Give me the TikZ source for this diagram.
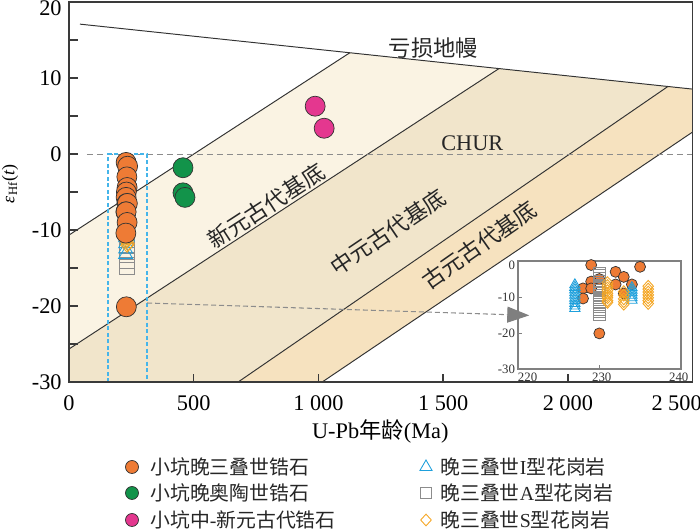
\documentclass[tikz,border=0pt]{standalone}
\usepackage{fontspec}
\setmainfont{Liberation Serif}
\newfontfamily\cjk{Noto Sans CJK SC}
\usepackage{tikz}
\usetikzlibrary{positioning}
\usetikzlibrary{shapes.geometric}
\usetikzlibrary{arrows.meta}

\definecolor{zirconorange}{HTML}{EE7B35}
\definecolor{zircongreen}{HTML}{12934A}
\definecolor{zirconpink}{HTML}{E4378F}
\definecolor{itype}{HTML}{1EA0DC}
\definecolor{atype}{HTML}{8C8C8C}
\definecolor{stype}{HTML}{F5A623}
\definecolor{neoband}{HTML}{FAF3E3}
\definecolor{mesoband}{HTML}{F1E5CB}
\definecolor{paleoband}{HTML}{F6E2BF}
\definecolor{framegray}{HTML}{3A3A3A}
\definecolor{insetgray}{HTML}{808080}
\definecolor{selblue}{HTML}{45B5EA}
\definecolor{arrowgray}{HTML}{7F7F7F}

\newcommand{\bigsize}{\fontsize{12.7pt}{15pt}\selectfont}
\newcommand{\ytitlesize}{\fontsize{10.2pt}{12pt}\selectfont}
\newcommand{\legsize}{\fontsize{11.3pt}{13pt}\selectfont}
\newcommand{\insetsize}{\fontsize{7.3pt}{8.5pt}\selectfont}

% zircon and granite data (age in Ma / epsilon Hf)
\newcommand{\latezircon}{229/-1.1, 235/-1.6, 232/-3.0, 233/-4.4, 230/-5.0, 229/-5.7, 232/-6.5, 234/-6.5, 228/-7.6, 229/-7.6, 233/-9.0, 228/-10.4, 230/-20.1}
\newcommand{\itypegranite}{227/-6.6, 227/-7.3, 227/-8.0, 227/-8.8, 227/-9.5, 227/-10.3, 227/-11.0, 227/-11.8, 227/-12.5, 227/-13.2, 234/-7.4, 234/-8.1, 234/-8.8, 234/-9.5, 234/-10.2, 234/-10.9}
\newcommand{\atypegranite}{230/-3.4, 230/-4.1, 230/-4.9, 230/-5.6, 230/-6.3, 230/-7.0, 230/-7.6, 230/-8.2, 230/-8.8, 230/-9.5, 230/-10.1, 230/-10.7, 230/-11.3, 230/-12.0, 230/-12.6, 230/-13.3, 230/-14.0, 230/-14.8}
\newcommand{\stypegranite}{231/-6.0, 231/-6.8, 231/-7.5, 231/-8.2, 231/-9.0, 231/-9.6, 231/-10.2, 231/-11.0, 231/-11.5, 233/-8.5, 233/-9.5, 233/-10.5, 233/-11.3, 233/-12.0, 236/-7.0, 236/-7.8, 236/-8.6, 236/-9.4, 236/-10.2, 236/-11.0, 236/-11.8}

\begin{document}
\begin{tikzpicture}[x=0.02cm, y=0.02cm,
  evoline/.style={draw=black!80, line width=0.55pt},
  churline/.style={draw=black!45, dash pattern=on 0.12cm off 0.08cm, line width=0.6pt},
  axisline/.style={draw=framegray, line width=0.9pt},
  bandlabel/.style={font=\bigsize, text=black!85, inner sep=0pt},
  ticklabel/.style={font=\bigsize, inner sep=0pt},
  selbox/.style={draw=selblue, dash pattern=on 0.08cm off 0.05cm, line width=0.7pt},
  zrc/.style={circle, draw=black!80, line width=0.4pt, inner sep=0pt, minimum size=#1},
  itri/.style={regular polygon, regular polygon sides=3, draw=itype, line width=0.5pt, inner sep=0pt, minimum size=#1},
  asq/.style={rectangle, draw=atype, line width=0.4pt, inner sep=0pt, minimum size=#1},
  sdia/.style={diamond, draw=stype, line width=0.5pt, inner sep=0pt, minimum width=#1, minimum height=1.1*#1},
  insetbox/.style={draw=insetgray, line width=0.85pt, fill=white, inner sep=0pt, minimum width=3.26cm, minimum height=2.16cm},
  insetaxis/.style={draw=insetgray, line width=0.6pt},
  insettick/.style={font=\insetsize, inner sep=0pt, text=black!80},
  zoomlink/.style={draw=black!45, dash pattern=on 0.1cm off 0.06cm, line width=0.6pt, -{Triangle[length=0.44cm,width=0.32cm,color=arrowgray]}, shorten >=-0.24cm},
  legtext/.style={font=\legsize, anchor=west, inner sep=0pt, text=black!85}]

% Set the size of the figure
\useasboundingbox (0,0) rectangle (700,530);

% main diagram in data coordinates
\begin{scope}[shift={(1.38cm,7.52cm)}, x=0.004984cm, y=0.152cm]

\coordinate (dmstart) at (44,17.1);
\coordinate (dmend) at (2500,8.55);
\coordinate (neoleft) at (0,-10.66);
\coordinate (neotop) at (1125.7,13.33);
\coordinate (mesoleft) at (0,-25.66);
\coordinate (mesotop) at (1723.8,11.25);
\coordinate (paleobase) at (678.2,-30);
\coordinate (paleotop) at (2400.9,8.89);
\coordinate (edgebase) at (1015.2,-30);
\coordinate (edgetop) at (2500,2.90);

% crustal evolution bands
\fill[neoband] (neoleft) -- (neotop) -- (mesotop) -- (mesoleft) -- cycle;
\fill[mesoband] (mesoleft) -- (mesotop) -- (paleotop) -- (paleobase) -- (0,-30) -- cycle;
\fill[paleoband] (paleobase) -- (paleotop) -- (dmend) -- (edgetop) -- (edgebase) -- cycle;

\draw[evoline] (dmstart) -- (dmend);
\draw[evoline] (neoleft) -- (neotop);
\draw[evoline] (mesoleft) -- (mesotop);
\draw[evoline] (paleobase) -- (paleotop);
\draw[evoline] (edgebase) -- (edgetop);

% the line epsilon Hf = 0
\draw[churline] (72,0) -- (2500,0);

\node[bandlabel] (dmlab) at (1461,13.95) {\cjk 亏损地幔};
\node[bandlabel] (churlab) at (1617,1.45) {CHUR};
\node[bandlabel, rotate=33] (neolab) at (790,-6.84) {\cjk 新元古代基底};
\node[bandlabel, rotate=34] (mesolab) at (1280,-10.26) {\cjk 中元古代基底};
\node[bandlabel, rotate=35] (paleolab) at (1645,-11.97) {\cjk 古元古代基底};

\draw[selbox] (156.5,-30) rectangle (313,0);
\coordinate (seltail) at (313,-19.6);

\foreach \ag/\eh [count=\i] in \atypegranite
  \node[asq=0.3cm] (asq\i) at (\ag,\eh) {};
\foreach \ag/\eh [count=\i] in \itypegranite
  \node[itri=0.32cm] (itri\i) at (\ag,\eh) {};
\foreach \ag/\eh [count=\i] in \stypegranite
  \node[sdia=0.26cm] (sdia\i) at (\ag,\eh) {};
\foreach \ag/\eh [count=\i] in \latezircon
  \node[zrc=0.4cm, fill=zirconorange] (late\i) at (\ag,\eh) {};
\node[zrc=0.4cm, fill=zircongreen] (ord1) at (457,-1.8) {};
\node[zrc=0.4cm, fill=zircongreen] (ord2) at (457,-5.1) {};
\node[zrc=0.4cm, fill=zircongreen] (ord3) at (465,-5.7) {};
\node[zrc=0.4cm, fill=zirconpink] (prot1) at (987,6.3) {};
\node[zrc=0.4cm, fill=zirconpink] (prot2) at (1023,3.4) {};

% frame and ticks
\draw[axisline] (0,-30) rectangle (2500,20);
\foreach \y in {-25,-20,...,15}
  \draw[axisline] (0,\y) -- ++(0.18cm,0);
\foreach \x in {500,1000,1500,2000}
  \draw[axisline] (\x,-30) -- ++(0,0.16cm);

\node[ticklabel, anchor=east] (yt20) at (-28,19.2) {20};
\foreach \y in {10,0,-10,-20,-30}
  \node[ticklabel, anchor=east] (yt\y) at (-28,\y) {\y};
\foreach \x/\t in {0/0, 500/500, 1000/1\ 000, 1500/1\ 500, 2000/2\ 000, 2436/2\ 500}
  \node[ticklabel] (xt\x) at (\x,-32.76) {\t};
\node[ticklabel] (xtitle) at (1248,-36.45) {U-Pb{\cjk 年龄}(Ma)};
\end{scope}

\node[font=\ytitlesize, inner sep=0pt, rotate=90] (ytitle) at (10,346) {{\itshape ε}\textsubscript{Hf}({\itshape t})};

% enlarged view of the Late Triassic data
\node[insetbox] (inset) at (599.5,215) {};
\draw[zoomlink] (seltail) -- (inset.west);

\begin{scope}[shift={(-25.5cm,5.38cm)}, x=0.163cm, y=0.072cm]
\foreach \ag/\eh [count=\i] in \latezircon
  \node[zrc=0.22cm, fill=zirconorange] (ilate\i) at (\ag,\eh) {};
\foreach \ag/\eh [count=\i] in \atypegranite
  \node[asq=0.24cm] (iasq\i) at (\ag,\eh) {};
\foreach \ag/\eh [count=\i] in \itypegranite
  \node[itri=0.24cm] (iitri\i) at (\ag,\eh) {};
\foreach \ag/\eh [count=\i] in \stypegranite
  \node[sdia=0.22cm] (isdia\i) at (\ag,\eh) {};

\draw[insetaxis] (220,-10) -- ++(0.08cm,0);
\draw[insetaxis] (220,-20) -- ++(0.08cm,0);
\draw[insetaxis] (230,-30) -- ++(0,0.08cm);

\node[insettick, anchor=east] (iy0) at (219.7,-1.1) {0};
\node[insettick, anchor=east] (iy10) at (219.7,-10) {-10};
\node[insettick, anchor=east] (iy20) at (219.7,-20) {-20};
\node[insettick, anchor=east] (iy30) at (219.7,-30) {-30};
\node[insettick] (ix220) at (221.2,-32.2) {220};
\node[insettick] (ix230) at (230.3,-32.2) {230};
\node[insettick] (ix240) at (239.75,-32.2) {240};
\end{scope}

% legend
\node[zrc=0.26cm, fill=zirconorange] (leg1) at (132,63) {};
\node[zrc=0.26cm, fill=zircongreen] (leg2) at (132,37) {};
\node[zrc=0.26cm, fill=zirconpink] (leg3) at (132,10) {};
\node[itri=0.28cm] (leg4) at (426,63) {};
\node[asq=0.22cm] (leg5) at (426,37) {};
\node[sdia=0.22cm] (leg6) at (426,10) {};
\node[legtext] (legt1) at (150,63) {\cjk 小坑晚三叠世锆石};
\node[legtext] (legt2) at (150,37) {\cjk 小坑晚奥陶世锆石};
\node[legtext] (legt3) at (150,10) {{\cjk 小坑中}-{\cjk 新元古代锆石}};
\node[legtext] (legt4) at (440,63) {{\cjk 晚三叠世}I{\cjk 型花岗岩}};
\node[legtext] (legt5) at (440,37) {{\cjk 晚三叠世}A{\cjk 型花岗岩}};
\node[legtext] (legt6) at (440,10) {{\cjk 晚三叠世}S{\cjk 型花岗岩}};
\end{tikzpicture}
\end{document}
